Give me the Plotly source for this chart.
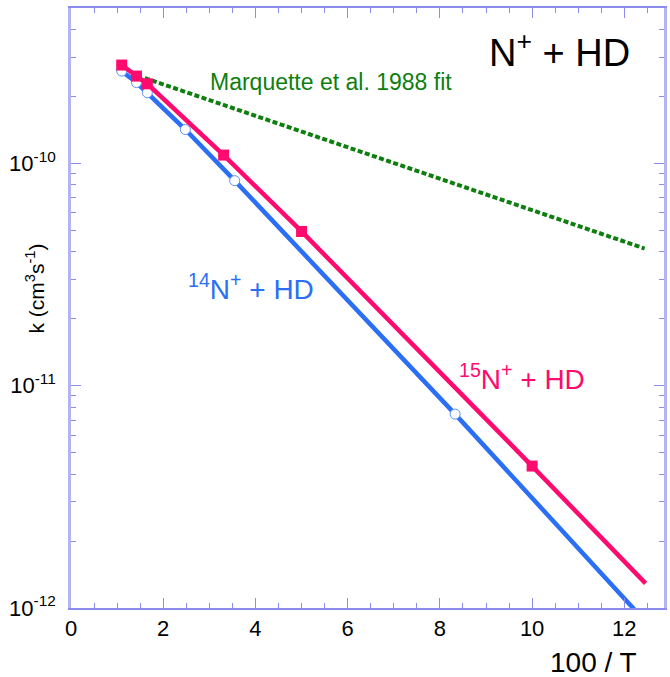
import plotly.graph_objects as go

# ---- data ----
n14_x = [1.10, 1.42, 1.655, 2.48, 3.55, 8.33]
n14_k = [2.60e-10, 2.31e-10, 2.08e-10, 1.42e-10, 8.36e-11, 7.45e-12]
n14_line_x = [1.00, 1.10, 1.42, 1.655, 2.48, 3.55, 8.33, 12.50]
n14_line_k = [2.68e-10, 2.60e-10, 2.31e-10, 2.08e-10, 1.42e-10, 8.36e-11, 7.45e-12, 8.5e-13]

n15_x = [1.10, 1.42, 1.655, 3.31, 5.00, 10.00]
n15_k = [2.77e-10, 2.47e-10, 2.28e-10, 1.09e-10, 4.94e-11, 4.35e-12]
n15_line_x = [1.00, 1.10, 1.42, 1.655, 3.31, 5.00, 10.00, 12.46]
n15_line_k = [2.82e-10, 2.77e-10, 2.47e-10, 2.28e-10, 1.09e-10, 4.94e-11, 4.35e-12, 1.29e-12]

marq_x = [1.60, 12.44]
marq_k = [2.42e-10, 4.14e-11]

x_tickvals = [0, 2, 4, 6, 8, 10, 12]
y_tickvals = [1e-12, 1e-11, 1e-10]
y_ticktext = ["10<sup>-12</sup>", "10<sup>-11</sup>", "10<sup>-10</sup>"]
y_minor = [m * 10.0 ** e for e in (-12, -11, -10) for m in range(2, 10) if m * 10.0 ** e <= 5e-10]

PINK = "#ff0a6e"
BLUE = "#2b6ff7"
GREEN = "#0e7f0e"
AXC = "#8c8cec"
FONT = "Liberation Sans, Arial, Helvetica, sans-serif"

fig = go.Figure()
fig.add_trace(go.Scatter(x=marq_x, y=marq_k, mode="lines",
                         line=dict(color=GREEN, width=4, dash="5px,2.5px")))
fig.add_trace(go.Scatter(x=n14_line_x, y=n14_line_k, mode="lines",
                         line=dict(color=BLUE, width=4.5)))
fig.add_trace(go.Scatter(x=n14_x, y=n14_k, mode="markers",
                         marker=dict(symbol="circle", size=10, color="white",
                                     line=dict(color="#5a92f8", width=1))))
fig.add_trace(go.Scatter(x=n15_line_x, y=n15_line_k, mode="lines",
                         line=dict(color=PINK, width=4.5)))
fig.add_trace(go.Scatter(x=n15_x, y=n15_k, mode="markers",
                         marker=dict(symbol="square", size=11, color=PINK, line=dict(width=0))))

fig.update_layout(
    width=670, height=677,
    margin=dict(l=71, r=3, t=8, b=69),
    paper_bgcolor="white", plot_bgcolor="white",
    showlegend=False,
    font=dict(family=FONT, color="black"),
)
fig.update_xaxes(
    range=[0, 12.86], showgrid=False, zeroline=False,
    showline=True, linecolor=AXC, linewidth=1.5, mirror="ticks",
    ticks="inside", ticklen=10, tickcolor=AXC, tickwidth=1,
    tickvals=x_tickvals, tickfont=dict(size=22, color="black"),
    minor=dict(dtick=0.5, tick0=0, ticks="inside", ticklen=5, tickcolor=AXC, tickwidth=1, showgrid=False),
)
fig.update_yaxes(
    type="log", range=[-12, -9.301], showgrid=False, zeroline=False,
    showline=True, linecolor="#b4b4f2", linewidth=2.5, mirror="ticks",
    ticks="inside", ticklen=10, tickcolor=AXC, tickwidth=1,
    tickvals=y_tickvals, ticktext=y_ticktext, tickfont=dict(size=22, color="black"),
    ticklabelstandoff=8,
    minor=dict(tickmode="array", tickvals=y_minor, ticks="inside", ticklen=5, tickcolor=AXC, tickwidth=1, showgrid=False),
)

ann = [
    dict(text="N<sup>+</sup> + HD", x=0.823, y=0.93, size=38, color="black"),
    dict(text="Marquette et al. 1988 fit", x=0.439, y=0.877, size=23, color=GREEN),
    dict(text="<sup>14</sup>N<sup>+</sup> + HD", x=0.304, y=0.535, size=28, color=BLUE),
    dict(text="<sup>15</sup>N<sup>+</sup> + HD", x=0.760, y=0.385, size=28, color=PINK),
    dict(text="100 / T", x=0.881, y=-0.090, size=28, color="black"),
]
for a in ann:
    fig.add_annotation(text=a["text"], x=a["x"], y=a["y"], xref="paper", yref="paper",
                       showarrow=False, xanchor="center", yanchor="middle",
                       font=dict(size=a["size"], color=a["color"], family=FONT))
fig.add_annotation(text="k (cm<sup>3</sup>s<sup>-1</sup>)", x=-0.06, y=0.533,
                   xref="paper", yref="paper", showarrow=False, textangle=-90,
                   xanchor="center", yanchor="middle",
                   font=dict(size=21, color="black", family=FONT))

fig.write_html("out.html", config={"displayModeBar": False},
               post_script="document.body.style.margin='0';document.body.style.overflow='hidden';")
